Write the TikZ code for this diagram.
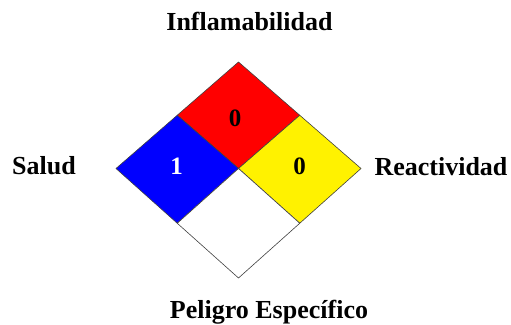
\documentclass[tikz,border=0pt]{standalone}
\usepackage{fontspec}
\setmainfont{Liberation Serif}
\usetikzlibrary{positioning, calc}
\tikzset{
  label/.style={font=\fontsize{26}{30}\selectfont\bfseries},
  number/.style={font=\fontsize{25}{30}\selectfont\bfseries},
  quad/.style={draw=black!75,line width=0.6pt,line join=miter}
}
\begin{document}
\begin{tikzpicture}[x=1pt,y=-1pt]
\useasboundingbox (0,0) rectangle (511,324);
%corners
\coordinate (top) at (238.5,62);
\coordinate (left) at (116,168.5);
\coordinate (right) at (361,168.5);
\coordinate (bottom) at (238.5,278);
\coordinate (c) at (238.5,168.5);
\coordinate (tl) at ($(top)!0.5!(left)$);
\coordinate (tr) at ($(top)!0.5!(right)$);
\coordinate (bl) at ($(bottom)!0.5!(left)$);
\coordinate (br) at ($(bottom)!0.5!(right)$);
%squares
\draw[quad,fill=red] (top) -- (tl) -- (c) -- (tr) -- cycle;
\draw[quad,fill=blue] (left) -- (tl) -- (c) -- (bl) -- cycle;
\draw[quad,fill=yellow] (right) -- (tr) -- (c) -- (br) -- cycle;
\draw[quad,fill=white] (bottom) -- (bl) -- (c) -- (br) -- cycle;
%numbers
\node[number] (fuego) at (235,118) {0};
\node[number,text=white] (salud num) at (176.5,166.5) {1};
\node[number] (reac num) at (299.5,166.5) {0};
%labels
\node[label] (inflamabilidad) at (249.5,21) {Inflamabilidad};
\node[label] (salud) at (44,166) {Salud};
\node[label] (reactividad) at (441,167) {Reactividad};
\node[label] (especifico) at (269,312) {Peligro Específico};
\end{tikzpicture}
\end{document}
